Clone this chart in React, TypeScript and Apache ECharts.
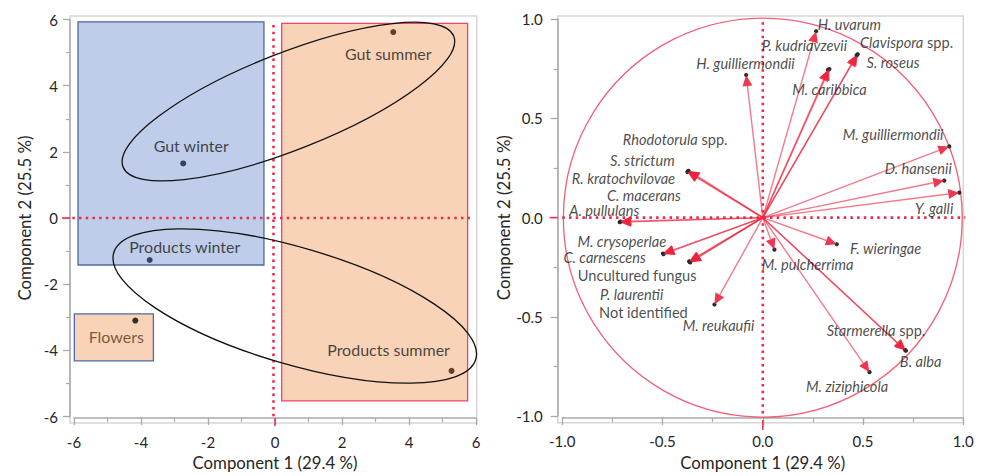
import React, { useEffect, useRef } from "react";
import * as echarts from "echarts";

// ---------- Left panel: scores ----------
const scoreNames = ["Gut summer", "Gut winter", "Products winter", "Flowers", "Products summer"];
const scoreX = [3.53, -2.74, -3.74, -4.17, 5.27];
const scoreY = [5.62, 1.65, -1.27, -3.1, -4.62];

// group boxes: [xMin, xMax, yMin, yMax]
const boxNames = ["Winter", "Summer", "Flowers box"];
const boxXMin = [-5.88, 0.2, -5.99];
const boxXMax = [-0.33, 5.75, -3.63];
const boxYMin = [-1.42, -5.53, -4.32];
const boxYMax = [5.93, 5.88, -2.9];

// ellipses: centre, semi-axes (data units), rotation (deg)
const ellipseNames = ["Gut", "Products"];
const ellipseCX = [0.4, 0.59];
const ellipseCY = [3.52, -2.66];
const ellipseA = [5.34, 5.67];
const ellipseB = [1.45, 1.75];
const ellipseAngle = [21.6, -16.4];

// ---------- Right panel: loadings ----------
const loadingNames = [
  "H. uvarum", "P. kudriavzevii", "Clavispora spp.", "S. roseus", "H. guilliermondii",
  "M. caribbica", "M. guilliermondii", "D. hansenii", "Y. galli", "Rhodotorula spp.",
  "S. strictum", "R. kratochvilovae", "C. macerans", "A. pullulans", "M. crysoperlae",
  "C. carnescens", "Uncultured fungus", "P. laurentii", "Not identified", "M. reukaufii",
  "M. pulcherrima", "F. wieringae", "Starmerella spp.", "B. alba", "M. ziziphicola",
];
const loadingX = [
  0.266, 0.325, 0.473, 0.468, -0.083,
  0.332, 0.93, 0.905, 0.98, -0.374,
  -0.37, -0.376, -0.714, -0.71, -0.498,
  -0.495, -0.365, -0.362, -0.367, -0.241,
  0.058, 0.369, 0.714, 0.71, 0.532,
];
const loadingY = [
  0.94, 0.745, 0.824, 0.818, 0.719,
  0.749, 0.359, 0.187, 0.126, 0.234,
  0.236, 0.23, -0.023, -0.02, -0.181,
  -0.184, -0.223, -0.226, -0.22, -0.438,
  -0.161, -0.134, -0.671, -0.668, -0.779,
];

// tick values
const leftTicks = [-6, -4, -2, 0, 2, 4, 6];
const rightTicks = [-1.0, -0.5, 0.0, 0.5, 1.0];

// ---------- layout / style (not data) ----------
const scoreColors = ["#3b1e0c", "#14213d", "#14213d", "#000000", "#3b1e0c"];
const scoreLabelColors = ["#1a1a1a", "#1a1a1a", "#1a1a1a", "#5b3516", "#1a1a1a"];
const scoreLabelOffsets = [[-5, 21], [8, -18], [35, -14], [-19, 16], [-63, -21]];
const boxFill = ["#bfcdea", "#f8d3b8", "#f8d3b8"];
const boxStroke = ["#4b6aa8", "#f2426a", "#4b6aa8"];
// label anchors (left edge, middle) in data units of the loading plot
const labelPosX = [
  0.271, -0.008, 0.482, 0.515, -0.335,
  0.144, 0.396, 0.606, 0.756, -0.701,
  -0.764, -0.955, -0.78, -0.968, -0.927,
  -0.997, -0.925, -0.814, -0.819, -0.402,
  -0.008, 0.432, 0.316, 0.681, 0.213,
];
const labelPosY = [
  0.973, 0.868, 0.882, 0.782, 0.779,
  0.644, 0.42, 0.246, 0.048, 0.392,
  0.289, 0.199, 0.11, 0.036, -0.119,
  -0.203, -0.294, -0.389, -0.48, -0.543,
  -0.234, -0.156, -0.571, -0.726, -0.849,
];

const FONT = "Lato";
const RED = "#ee2a4d";
const TEXT = "#262626";

function labelFormatter(name: string): string {
  if (name === "Uncultured fungus" || name === "Not identified") return `{n|${name}}`;
  if (name.endsWith(" spp.")) return `{i|${name.replace(" spp.", "")}}{n| spp.}`;
  return `{i|${name}}`;
}

function axis(extra: any) {
  return {
    type: "value",
    axisLine: { show: true, onZero: false, lineStyle: { color: "#a9a9a9", width: 1.5 } },
    axisTick: { show: true, length: 7, lineStyle: { color: "#a9a9a9", width: 1.3 } },
    minorTick: { show: true, splitNumber: 2, length: 4, lineStyle: { color: "#a9a9a9", width: 1.2 } },
    splitLine: { show: false },
    minorSplitLine: { show: false },
    nameLocation: "middle",
    nameTextStyle: { fontFamily: FONT, fontSize: 16.8, color: TEXT },
    ...extra,
  };
}

function buildOption() {
  const fmtLeft = (v: number) => (leftTicks.includes(v) ? String(v) : "");
  const fmtRight = (v: number) => (rightTicks.some((t) => Math.abs(t - v) < 1e-9) ? v.toFixed(1) : "");

  const dotted = { stroke: RED, lineWidth: 2.6, lineDash: [2.5, 4.2], lineCap: "butt" as const };
  const solidRed = { stroke: RED, lineWidth: 1.5 };
  const LBL = 14.6;

  return {
    animation: false,
    backgroundColor: "#ffffff",
    grid: [
      { left: 74, top: 19.5, width: 402, height: 402.2 },
      { left: 562.3, top: 19.3, width: 401, height: 401.4 },
    ],
    graphic: [
      { type: "rect", z: 0, shape: { x: 70, y: 16, width: 406.7, height: 407 }, style: { fill: "none", stroke: "#d6d6d6", lineWidth: 1.5 } },
      { type: "rect", z: 0, shape: { x: 557.7, y: 16, width: 405.6, height: 406.7 }, style: { fill: "none", stroke: "#d6d6d6", lineWidth: 1.5 } },
    ],
    xAxis: [
      axis({
        gridIndex: 0, min: -6, max: 6, interval: 2, offset: 1.5,
        name: "Component 1 (29.4 %)", nameGap: 36,
        axisLabel: { fontFamily: FONT, fontSize: 15, color: TEXT, margin: 16, formatter: fmtLeft },
      }),
      axis({
        gridIndex: 1, min: -1, max: 1, interval: 0.5, offset: 2,
        name: "Component 1 (29.4 %)", nameGap: 36,
        axisLabel: { fontFamily: FONT, fontSize: 15, color: TEXT, margin: 15, formatter: fmtRight },
      }),
    ],
    yAxis: [
      axis({
        gridIndex: 0, min: -6, max: 6, interval: 2, offset: 4,
        name: "Component 2 (25.5 %)", nameGap: 37,
        axisLabel: { fontFamily: FONT, fontSize: 15, color: TEXT, margin: 12, formatter: fmtLeft },
      }),
      axis({
        gridIndex: 1, min: -1, max: 1, interval: 0.5, offset: 4.6,
        name: "Component 2 (25.5 %)", nameGap: 43,
        axisLabel: { fontFamily: FONT, fontSize: 15, color: TEXT, margin: 15, formatter: fmtRight },
      }),
    ],
    series: [
      // group boxes
      {
        type: "custom", name: "boxes", xAxisIndex: 0, yAxisIndex: 0, z: 1, silent: true,
        data: boxNames.map((_, i) => [boxXMin[i], boxXMax[i], boxYMin[i], boxYMax[i], i]),
        renderItem: (_p: any, api: any) => {
          const i = api.value(4);
          const tl = api.coord([api.value(0), api.value(3)]);
          const br = api.coord([api.value(1), api.value(2)]);
          return {
            type: "rect",
            shape: { x: tl[0], y: tl[1], width: br[0] - tl[0], height: br[1] - tl[1] },
            style: { fill: boxFill[i], stroke: boxStroke[i], lineWidth: 1.3 },
          };
        },
      },
      // reference lines, left
      {
        type: "custom", name: "refLeft", xAxisIndex: 0, yAxisIndex: 0, z: 3, silent: true,
        data: [[0, 0]],
        renderItem: (_p: any, api: any) => {
          const top = api.coord([0, 5.83]);
          const bot = api.coord([0, -6]);
          const l = api.coord([-6.05, 0]);
          const r = api.coord([5.82, 0]);
          const axisX = api.coord([-6, 0])[0] - 4;
          const axisY = bot[1] + 1.5;
          return {
            type: "group",
            children: [
              { type: "line", shape: { x1: top[0] - 1.5, y1: top[1], x2: bot[0] - 1.5, y2: bot[1] }, style: dotted },
              { type: "line", shape: { x1: l[0], y1: l[1], x2: r[0], y2: r[1] }, style: dotted },
              { type: "line", shape: { x1: bot[0], y1: axisY, x2: bot[0], y2: axisY + 8 }, style: solidRed },
              { type: "line", shape: { x1: axisX - 8, y1: l[1], x2: axisX, y2: l[1] }, style: solidRed },
            ],
          };
        },
      },
      // ellipses
      {
        type: "custom", name: "ellipses", xAxisIndex: 0, yAxisIndex: 0, z: 4, silent: true,
        data: ellipseNames.map((_, i) => [ellipseCX[i], ellipseCY[i], ellipseA[i], ellipseB[i], ellipseAngle[i]]),
        renderItem: (_p: any, api: any) => {
          const c = api.coord([api.value(0), api.value(1)]);
          const s = api.size([1, 1]);
          const k = (s[0] + s[1]) / 2;
          return {
            type: "ellipse",
            x: c[0], y: c[1],
            rotation: (api.value(4) * Math.PI) / 180,
            shape: { cx: 0, cy: 0, rx: api.value(2) * k, ry: api.value(3) * k },
            style: { fill: "none", stroke: "#111111", lineWidth: 1.3 },
          };
        },
      },
      // score points
      {
        type: "scatter", name: "scores", xAxisIndex: 0, yAxisIndex: 0, z: 5,
        symbolSize: 6,
        data: scoreNames.map((n, i) => ({
          name: n,
          value: [scoreX[i], scoreY[i]],
          itemStyle: { color: scoreColors[i] },
          label: {
            show: true, position: "inside", offset: scoreLabelOffsets[i], formatter: n,
            fontFamily: FONT, fontSize: 16, color: scoreLabelColors[i],
          },
        })),
      },
      // circle of correlations
      {
        type: "custom", name: "circle", xAxisIndex: 1, yAxisIndex: 1, z: 2, silent: true,
        data: [[0, 0]],
        renderItem: (_p: any, api: any) => {
          const c = api.coord([0, 0]);
          const s = api.size([1, 1]);
          return {
            type: "circle",
            shape: { cx: c[0], cy: c[1], r: (s[0] + s[1]) / 2 },
            style: { fill: "none", stroke: "rgba(238,42,77,0.75)", lineWidth: 1.3 },
          };
        },
      },
      // reference lines, right
      {
        type: "custom", name: "refRight", xAxisIndex: 1, yAxisIndex: 1, z: 3, silent: true,
        data: [[0, 0]],
        renderItem: (_p: any, api: any) => {
          const top = api.coord([0, 0.985]);
          const bot = api.coord([0, -1]);
          const l = api.coord([-1, 0]);
          const r = api.coord([1.01, 0]);
          const axisX = l[0] - 4.6;
          const axisY = bot[1] + 2;
          return {
            type: "group",
            children: [
              { type: "line", shape: { x1: top[0], y1: top[1], x2: bot[0], y2: bot[1] }, style: dotted },
              { type: "line", shape: { x1: l[0], y1: l[1], x2: r[0], y2: r[1] }, style: dotted },
              { type: "line", shape: { x1: bot[0], y1: axisY + 2, x2: bot[0], y2: axisY + 12 }, style: solidRed },
              { type: "line", shape: { x1: axisX - 8, y1: l[1], x2: axisX, y2: l[1] }, style: solidRed },
            ],
          };
        },
      },
      // loading arrows
      {
        type: "custom", name: "arrows", xAxisIndex: 1, yAxisIndex: 1, z: 4, silent: true,
        data: loadingNames.map((_, i) => [loadingX[i], loadingY[i]]),
        renderItem: (_p: any, api: any) => {
          const o = api.coord([0, 0]);
          const p = api.coord([api.value(0), api.value(1)]);
          const dx = p[0] - o[0];
          const dy = p[1] - o[1];
          const len = Math.hypot(dx, dy) || 1;
          const ux = dx / len;
          const uy = dy / len;
          const hl = 11;
          const hw = 5;
          const bx = p[0] - ux * hl;
          const by = p[1] - uy * hl;
          return {
            type: "group",
            children: [
              { type: "line", shape: { x1: o[0], y1: o[1], x2: bx, y2: by }, style: { stroke: "rgba(238,40,65,0.62)", lineWidth: 1.4 } },
              { type: "circle", shape: { cx: p[0], cy: p[1], r: 2.1 }, style: { fill: "#2a2a2a" } },
              {
                type: "polygon",
                shape: { points: [[p[0], p[1]], [bx - uy * hw, by + ux * hw], [bx + uy * hw, by - ux * hw]] },
                style: { fill: "rgba(236,34,62,0.9)" },
              },
            ],
          };
        },
      },
      // loading labels
      {
        type: "scatter", name: "loadingLabels", xAxisIndex: 1, yAxisIndex: 1, z: 6, silent: true,
        symbolSize: 1,
        itemStyle: { color: "rgba(0,0,0,0)" },
        data: loadingNames.map((n, i) => ({
          name: n,
          value: [labelPosX[i], labelPosY[i]],
          label: {
            show: true, position: "right", distance: 0,
            formatter: labelFormatter(n),
            rich: {
              i: { fontFamily: FONT, fontStyle: "italic", fontSize: LBL, color: "#1a1a1a" },
              n: { fontFamily: FONT, fontSize: LBL, color: "#1a1a1a" },
            },
          },
        })),
      },
    ],
  };
}

export default function App() {
  const ref = useRef<HTMLDivElement>(null);
  useEffect(() => {
    if (!ref.current) return;
    const chart = echarts.init(ref.current, null, { renderer: "svg" });
    chart.setOption(buildOption() as any);
    return () => chart.dispose();
  }, []);
  return (
    <div
      ref={ref}
      style={{ position: "absolute", left: 0, top: 0, width: 983, height: 476, background: "#ffffff" }}
    />
  );
}
